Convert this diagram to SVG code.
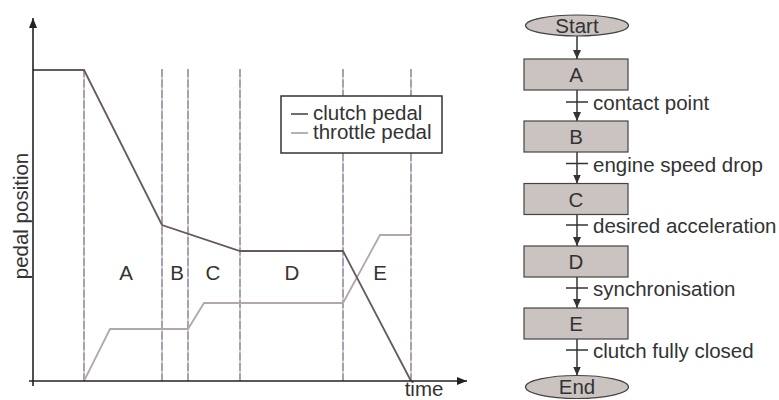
<svg xmlns="http://www.w3.org/2000/svg" width="779" height="400" viewBox="0 0 779 400">
<style>
text{font-family:"Liberation Sans",Arial,sans-serif;font-size:20.5px;fill:#333}
.mid{text-anchor:middle}
.ax{stroke:#222;stroke-width:1.6;fill:none}
.dashb{stroke:#8a8ae6;stroke-width:0.8}
.dash{stroke:#a39595;stroke-width:1.6;stroke-dasharray:8 2.5}
.clutch{stroke:#665a5e;stroke-width:1.8;fill:none}
.throttle{stroke:#b3a8a8;stroke-width:1.8;fill:none}
.box{fill:#cbc3bf;stroke:#444;stroke-width:1.2}
.flow{stroke:#333;stroke-width:1.5;fill:none}
.tick{stroke:#333;stroke-width:1.5}
</style>
<defs>
<marker id="ah" markerWidth="10" markerHeight="8" refX="10" refY="4" orient="auto" markerUnits="userSpaceOnUse">
<path d="M0,0 L10,4 L0,8 z" fill="#222"/>
</marker>
<marker id="fh" markerWidth="9" markerHeight="8" refX="9" refY="4" orient="auto" markerUnits="userSpaceOnUse" viewBox="0 0 9 8">
<path d="M0,0 L9,4 L0,8 z" fill="#333"/>
</marker>
</defs>
<g id="chart">
<g id="phase-lines">
<line class="dashb" x1="84" y1="69" x2="84" y2="381"/>
<line class="dashb" x1="162" y1="69" x2="162" y2="381"/>
<line class="dashb" x1="188" y1="69" x2="188" y2="381"/>
<line class="dashb" x1="240" y1="69" x2="240" y2="381"/>
<line class="dashb" x1="343" y1="69" x2="343" y2="381"/>
<line class="dashb" x1="411" y1="69" x2="411" y2="381"/>
<line class="dash" x1="84" y1="69" x2="84" y2="381"/>
<line class="dash" x1="162" y1="69" x2="162" y2="381"/>
<line class="dash" x1="188" y1="69" x2="188" y2="381"/>
<line class="dash" x1="240" y1="69" x2="240" y2="381"/>
<line class="dash" x1="343" y1="69" x2="343" y2="381"/>
<line class="dash" x1="411" y1="69" x2="411" y2="381"/>
</g>
<polyline class="throttle" points="84,381 110,329 188,329 204,303 343,303 380,235 411,235"/>
<polyline class="clutch" points="33,70 84,70 162,225 240,251 343,251 411,381"/>
<line class="ax" x1="33" y1="386" x2="33" y2="18" marker-end="url(#ah)"/>
<line class="ax" x1="29" y1="381" x2="467" y2="381" marker-end="url(#ah)"/>
<text class="mid" x="424" y="396">time</text>
<text class="mid" transform="translate(28,216) rotate(-90)">pedal position</text>
<text class="mid" x="126" y="280">A</text>
<text class="mid" x="177" y="280">B</text>
<text class="mid" x="213" y="280">C</text>
<text class="mid" x="292" y="280">D</text>
<text class="mid" x="380" y="280">E</text>
<g id="legend">
<rect x="281" y="96" width="161" height="57" fill="#fff" stroke="#333" stroke-width="1.5"/>
<line class="clutch" x1="291" y1="114" x2="308" y2="114"/>
<line class="throttle" x1="291" y1="133" x2="308" y2="133"/>
<text x="313" y="120">clutch pedal</text>
<text x="313" y="139">throttle pedal</text>
</g>
</g>
<g id="connectors">
<line class="flow" x1="577" y1="36" x2="577" y2="59" marker-end="url(#fh)"/>
<line class="flow" x1="577" y1="90" x2="577" y2="121" marker-end="url(#fh)"/>
<line class="flow" x1="577" y1="152" x2="577" y2="183.5" marker-end="url(#fh)"/>
<line class="flow" x1="577" y1="214.5" x2="577" y2="246" marker-end="url(#fh)"/>
<line class="flow" x1="577" y1="277" x2="577" y2="308" marker-end="url(#fh)"/>
<line class="flow" x1="577" y1="339" x2="577" y2="375.5" marker-end="url(#fh)"/>
<line class="tick" x1="566" y1="102" x2="588" y2="102"/>
<line class="tick" x1="566" y1="163.5" x2="588" y2="163.5"/>
<line class="tick" x1="566" y1="225" x2="588" y2="225"/>
<line class="tick" x1="566" y1="288" x2="588" y2="288"/>
<line class="tick" x1="566" y1="350" x2="588" y2="350"/>
<text x="593" y="110">contact point</text>
<text x="593" y="171.5">engine speed drop</text>
<text x="593" y="233">desired acceleration</text>
<text x="593" y="296">synchronisation</text>
<text x="593" y="358">clutch fully closed</text>
</g>
<g id="start">
<ellipse class="box" cx="577" cy="25.5" rx="51.5" ry="10.5"/>
<text class="mid" x="577" y="32.5">Start</text>
</g>
<g id="A">
<rect class="box" x="524" y="59" width="104" height="31"/>
<text class="mid" x="576" y="82">A</text>
</g>
<g id="B">
<rect class="box" x="524" y="121" width="104" height="31"/>
<text class="mid" x="576" y="144">B</text>
</g>
<g id="C">
<rect class="box" x="524" y="183.5" width="104" height="31"/>
<text class="mid" x="576" y="206.5">C</text>
</g>
<g id="D">
<rect class="box" x="524" y="246" width="104" height="31"/>
<text class="mid" x="576" y="269">D</text>
</g>
<g id="E">
<rect class="box" x="524" y="308" width="104" height="31"/>
<text class="mid" x="576" y="331">E</text>
</g>
<g id="end">
<ellipse class="box" cx="577" cy="387" rx="51.5" ry="11.5"/>
<text class="mid" x="577" y="394">End</text>
</g>
</svg>
